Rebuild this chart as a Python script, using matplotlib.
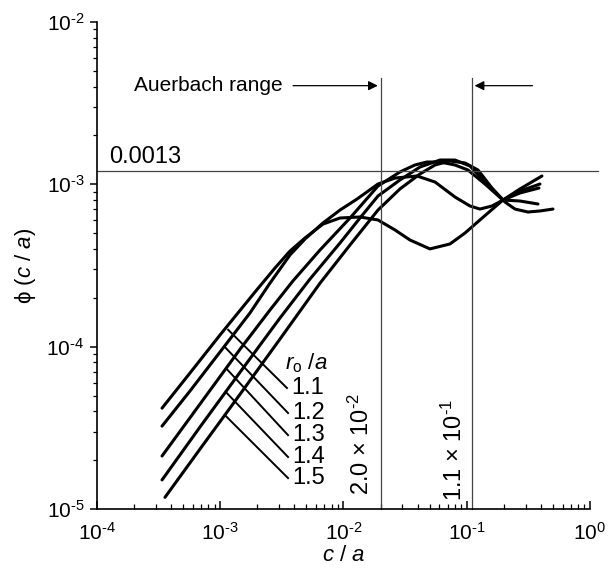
import matplotlib
matplotlib.use("Agg")
import matplotlib.pyplot as plt
import numpy as np

plt.rcParams['font.family'] = ['Liberation Sans', 'DejaVu Sans']
plt.rcParams['mathtext.fontset'] = 'custom'
plt.rcParams['mathtext.rm'] = 'Liberation Sans'
plt.rcParams['mathtext.it'] = 'Liberation Sans:italic'

# phi(c/a) curves, one per r0/a
r_labels = ["1.1", "1.2", "1.3", "1.4", "1.5"]

c_11 = [3.37e-4, 5.68e-4, 9.95e-4, 1.914e-3, 2.78e-3, 3.68e-3, 4.87e-3, 6.82e-3, 9.37e-3, 1.361e-2,
        1.905e-2, 2.62e-2, 3.46e-2, 5.03e-2, 7.31e-2, 9.68e-2, 0.128, 0.1968, 0.2704, 0.4077]
phi_11 = [4.18e-5, 6.88e-5, 1.179e-4, 2.17e-4, 3.05e-4, 3.88e-4, 4.67e-4, 5.69e-4, 6.20e-4, 6.29e-4,
          6.03e-4, 5.23e-4, 4.54e-4, 4.00e-4, 4.29e-4, 5.01e-4, 6.03e-4, 8.00e-4, 9.36e-4, 1.125e-3]

c_12 = [3.37e-4, 5.68e-4, 9.95e-4, 1.74e-3, 2.53e-3, 3.68e-3, 4.87e-3, 6.82e-3, 9.37e-3, 1.287e-2,
        1.905e-2, 2.62e-2, 3.95e-2, 5.53e-2, 8.03e-2, 0.1063, 0.128, 0.1603, 0.1968, 0.2704, 0.393]
phi_12 = [3.24e-5, 5.33e-5, 9.26e-5, 1.61e-4, 2.46e-4, 3.67e-4, 4.60e-4, 5.78e-4, 6.94e-4, 8.11e-4,
          1.004e-3, 1.093e-3, 1.125e-3, 1.033e-3, 8.35e-4, 7.35e-4, 7.04e-4, 7.35e-4, 8.00e-4, 9.09e-4, 1.004e-3]

c_13 = [3.37e-4, 6.85e-4, 1.45e-3, 2.53e-3, 3.89e-3, 6.45e-3, 1.13e-2, 1.905e-2, 2.87e-2, 3.80e-2,
        4.76e-2, 6.07e-2, 8.03e-2, 0.1023, 0.1406, 0.1968, 0.2704, 0.3857]
phi_13 = [2.12e-5, 4.43e-5, 9.66e-5, 1.68e-4, 2.54e-4, 3.94e-4, 6.20e-4, 9.76e-4, 1.191e-3, 1.315e-3,
          1.372e-3, 1.372e-3, 1.315e-3, 1.225e-3, 1.004e-3, 8.00e-4, 8.84e-4, 9.49e-4]

c_14 = [3.37e-4, 6.85e-4, 1.45e-3, 3.05e-3, 5.35e-3, 9.37e-3, 1.361e-2, 1.905e-2, 2.87e-2, 4.18e-2,
        6.07e-2, 8.03e-2, 0.1063, 0.146, 0.1968, 0.2704, 0.3785]
phi_14 = [1.51e-5, 3.20e-5, 6.97e-5, 1.50e-4, 2.61e-4, 4.35e-4, 6.20e-4, 8.47e-4, 1.063e-3, 1.278e-3,
          1.411e-3, 1.411e-3, 1.296e-3, 1.004e-3, 8.00e-4, 7.89e-4, 7.56e-4]

c_15 = [3.56e-4, 6.85e-4, 1.45e-3, 3.05e-3, 6.45e-3, 1.13e-2, 1.905e-2, 2.87e-2, 4.18e-2, 5.53e-2,
        7.31e-2, 9.68e-2, 0.1234, 0.1603, 0.2043, 0.2463, 0.3141, 0.393, 0.501]
phi_15 = [1.18e-5, 2.34e-5, 5.10e-5, 1.113e-4, 2.46e-4, 4.23e-4, 6.94e-4, 9.36e-4, 1.158e-3, 1.315e-3,
          1.392e-3, 1.353e-3, 1.225e-3, 9.49e-4, 7.78e-4, 7.04e-4, 6.75e-4, 6.85e-4, 7.04e-4]

curves = [(c_11, phi_11), (c_12, phi_12), (c_13, phi_13), (c_14, phi_14), (c_15, phi_15)]

# leader lines from curves to the r0/a labels
lead_c0 = [1.16e-3, 1.09e-3, 1.13e-3, 1.13e-3, 1.09e-3]
lead_phi0 = [1.27e-4, 9.95e-5, 7.28e-5, 5.18e-5, 3.79e-5]
lead_c1 = [3.48e-3, 3.55e-3, 3.55e-3, 3.55e-3, 3.55e-3]
lead_phi1 = [5.56e-5, 3.9e-5, 2.85e-5, 2.09e-5, 1.55e-5]

x_ticks = [1e-4, 1e-3, 1e-2, 1e-1, 1e0]
x_ticklabels = [r"10$^{\text{-}4}$", r"10$^{\text{-}3}$", r"10$^{\text{-}2}$", r"10$^{\text{-}1}$", r"10$^{0}$"]
y_ticks = [1e-5, 1e-4, 1e-3, 1e-2]
y_ticklabels = [r"10$^{\text{-}5}$", r"10$^{\text{-}4}$", r"10$^{\text{-}3}$", r"10$^{\text{-}2}$"]

c_low, c_high = 2.0e-2, 1.1e-1
phi_line = 1.2e-3

fig = plt.figure(figsize=(6.12, 5.70), dpi=100)
ax = fig.add_axes([0.1585, 0.107, 0.8055, 0.8545])
ax.set_xscale('log')
ax.set_yscale('log')
ax.set_xlim(1e-4, 1e0)
ax.set_ylim(1e-5, 1e-2)

for c, phi in curves:
    ax.plot(c, phi, color='black', lw=2.2, solid_capstyle='round', solid_joinstyle='round')

for i in range(5):
    ax.plot([lead_c0[i], lead_c1[i]], [lead_phi0[i], lead_phi1[i]], color='black', lw=1.4)
    ax.text(lead_c1[i] * 1.08, lead_phi1[i], r_labels[i], fontsize=17, va='center', ha='left')
ax.text(3.36e-3, 7.9e-5, r'$r_{\rm o}$ /$a$', fontsize=16, va='center', ha='left')

# reference lines
line_kw = dict(color='#444444', lw=0.9, clip_on=False)
ax.plot([c_low, c_low], [1e-5, 4.5e-3], **line_kw)
ax.plot([c_high, c_high], [1e-5, 4.5e-3], **line_kw)
ax.plot([1e-4, 1.16], [phi_line, phi_line], **line_kw)

ax.text(1.25e-4, 1.36e-3, "0.0013", fontsize=17, va='baseline', ha='left')
ax.text(1.40e-2, 2.5e-5, r"2.0 $\times$ 10$^{\text{-}2}$", fontsize=17, rotation=90, va='center', ha='center')
ax.text(8.0e-2, 2.3e-5, r"1.1 $\times$ 10$^{\text{-}1}$", fontsize=17, rotation=90, va='center', ha='center')

ax.text(3.2e-3, 4.05e-3, "Auerbach range", fontsize=15, va='center', ha='right')
ax.annotate("", xy=(c_low, 4.05e-3), xytext=(3.7e-3, 4.05e-3),
            arrowprops=dict(arrowstyle='-|>', color='black', lw=0.9, mutation_scale=14))
ax.annotate("", xy=(c_high, 4.05e-3), xytext=(0.36, 4.05e-3),
            arrowprops=dict(arrowstyle='-|>', color='black', lw=0.9, mutation_scale=14))

ax.spines['top'].set_visible(False)
ax.spines['right'].set_visible(False)
ax.spines['left'].set_linewidth(1.2)
ax.spines['bottom'].set_linewidth(1.2)

ax.set_xticks(x_ticks)
ax.set_xticklabels(x_ticklabels)
ax.set_yticks(y_ticks)
ax.set_yticklabels(y_ticklabels)

ax.tick_params(axis='y', which='major', direction='out', length=5, width=1.1, labelsize=15, pad=4)
ax.tick_params(axis='y', which='minor', direction='out', length=3, width=0.9)
ax.tick_params(axis='x', which='major', direction='in', length=6, width=1.1, labelsize=15, pad=9)
ax.tick_params(axis='x', which='minor', direction='in', length=3.5, width=0.9)

ax.set_xlabel("$c$ / $a$", fontsize=16, labelpad=1)
ax.set_ylabel("ϕ ($c$ / $a$)", fontsize=16, labelpad=6)

fig.savefig("out.png", dpi=100)
